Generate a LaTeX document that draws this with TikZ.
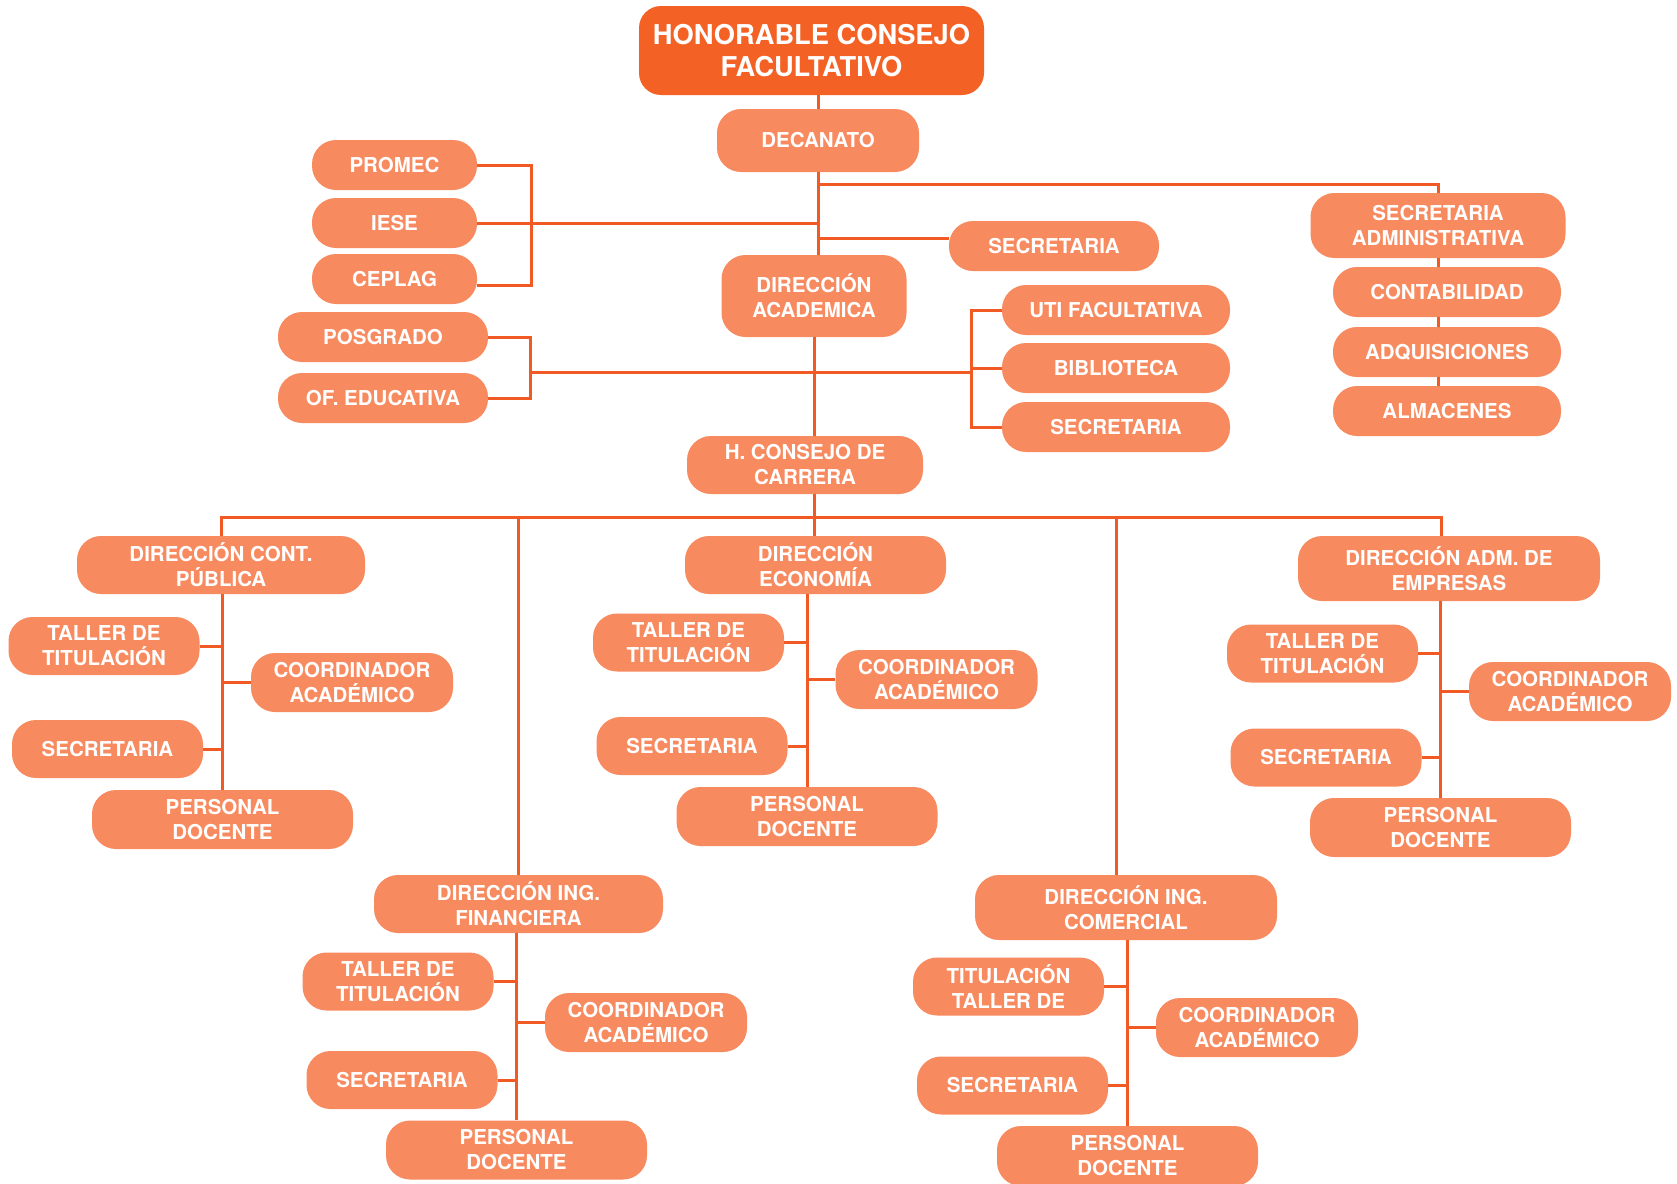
\documentclass[tikz,border=0pt]{standalone}
\usepackage{fontspec}
\setmainfont{TeX Gyre Heros}

\definecolor{unitfill}{HTML}{F88A5F}
\definecolor{headfill}{HTML}{F46124}
\definecolor{linkcol}{HTML}{F15A24}

\tikzset{
  unit/.style={fill=unitfill, text=white, rounded corners=24pt, align=center, inner sep=0pt,
    font=\bfseries\fontsize{20.5}{25}\selectfont},
  unitbox/.style 2 args={unit, minimum width=#1pt, minimum height=#2pt},
  tallbox/.style={unitbox={191}{58}},
  coobox/.style={unitbox={202}{59}},
  docbox/.style={unitbox={261}{59}},
  link/.style={draw=linkcol, line width=3pt},
}

\begin{document}
\begin{tikzpicture}[x=1pt, y=-1pt, line join=miter]

  \fill[white] (0,0) rectangle (1677,1183);

  %% ════ 上层 ════
  \node[unitbox={345}{89}, fill=headfill, rounded corners=22pt,
        font=\bfseries\fontsize{27.3}{32.5}\selectfont] (hcf) at (811.5,50.5) {\raisebox{-3pt}{HONORABLE CONSEJO}\\\raisebox{-3pt}{FACULTATIVO}};
  \node[unitbox={202}{63}] (dec) at (818,140.5) {DECANATO};

  \node[unitbox={165}{50}] (promec) at (394.5,165) {PROMEC};
  \node[unitbox={165}{50}] (iese)   at (394.5,223) {IESE};
  \node[unitbox={165}{50}] (ceplag) at (394.5,279) {CEPLAG};
  \node[unitbox={210}{50}] (posg)   at (383,337)   {POSGRADO};
  \node[unitbox={210}{50}] (ofed)   at (383,398)   {OF. EDUCATIVA};

  \node[unitbox={210}{50}] (sec1) at (1054,246) {SECRETARIA};
  \node[unitbox={185}{82}] (dac)  at (814,296)  {DIRECCIÓN\\ACADEMICA};
  \node[unitbox={228}{50}] (uti)  at (1116,310) {UTI FACULTATIVA};
  \node[unitbox={228}{50}] (bib)  at (1116,368) {BIBLIOTECA};
  \node[unitbox={228}{50}] (sec2) at (1116,427) {SECRETARIA};

  \node[unitbox={255}{65}] (sadm) at (1438,225.5) {SECRETARIA\\ADMINISTRATIVA};
  \node[unitbox={228}{50}] (cont) at (1447,292) {CONTABILIDAD};
  \node[unitbox={228}{50}] (adq)  at (1447,352) {ADQUISICIONES};
  \node[unitbox={228}{50}] (alm)  at (1447,411) {ALMACENES};

  \node[unitbox={236}{58}] (hcc) at (805,465) {H. CONSEJO DE\\CARRERA};

  %% ════ 五个学院 ════
  % cont. pública
  \node[unitbox={288}{58}] (cp) at (221,565) {DIRECCIÓN CONT.\\PÚBLICA};
  \node[tallbox] (cptal) at (104,646)     {TALLER DE\\TITULACIÓN};
  \node[coobox]  (cpcoo) at (352,682.5)   {COORDINADOR\\ACADÉMICO};
  \node[tallbox] (cpsec) at (107.5,749)   {SECRETARIA};
  \node[docbox]  (cpdoc) at (222.5,819.5) {PERSONAL\\DOCENTE};
  % economía
  \node[unitbox={261}{58}] (ec) at (815.5,565) {DIRECCIÓN\\ECONOMÍA};
  \node[tallbox] (ectal) at (688.5,642.5) {TALLER DE\\TITULACIÓN};
  \node[coobox]  (eccoo) at (936.5,679.5) {COORDINADOR\\ACADÉMICO};
  \node[tallbox] (ecsec) at (692,746)     {SECRETARIA};
  \node[docbox]  (ecdoc) at (807,816.5)   {PERSONAL\\DOCENTE};
  % adm. de empresas
  \node[unitbox={302}{65}] (ad) at (1449,568.5) {DIRECCIÓN ADM. DE\\EMPRESAS};
  \node[tallbox] (adtal) at (1322.5,653.5) {TALLER DE\\TITULACIÓN};
  \node[coobox]  (adcoo) at (1570,691.5)   {COORDINADOR\\ACADÉMICO};
  \node[tallbox] (adsec) at (1326,757.5)   {SECRETARIA};
  \node[docbox]  (addoc) at (1440.5,827.5) {PERSONAL\\DOCENTE};
  % ing. financiera
  \node[unitbox={289}{58}] (fi) at (518.5,904) {DIRECCIÓN ING.\\FINANCIERA};
  \node[tallbox] (fital) at (398,981.5)  {TALLER DE\\TITULACIÓN};
  \node[coobox]  (ficoo) at (646,1022.5) {COORDINADOR\\ACADÉMICO};
  \node[tallbox] (fisec) at (402,1080)   {SECRETARIA};
  \node[docbox]  (fidoc) at (516.5,1150) {PERSONAL\\DOCENTE};
  % ing. comercial
  \node[unitbox={302}{65}] (co) at (1126,907.5) {DIRECCIÓN ING.\\COMERCIAL};
  \node[tallbox] (cotal) at (1008.5,986.5) {TITULACIÓN\\TALLER DE};
  \node[coobox]  (cocoo) at (1257,1027.5)  {COORDINADOR\\ACADÉMICO};
  \node[tallbox] (cosec) at (1012.5,1085.5) {SECRETARIA};
  \node[unitbox={261}{60}] (codoc) at (1127.5,1156) {PERSONAL\\DOCENTE};

  %% ════ 连线 ════
  \coordinate (jtop) at (818,184);
  \coordinate (jacl) at (530,372);
  \coordinate (jacr) at (971,372);
  \coordinate (jbr)  at (814,517);

  \draw[link] (dec.north) -- (dec.north |- hcf.south);
  \draw[link] (dec.south) -- (dec.south |- dac.north);
  \draw[link] (jtop) -| (sadm.north);
  \draw[link] (iese.east) -- (iese.east -| dec.south);
  \draw[link] (promec.east) -- ++(54,0) |- ([yshift=-6pt]ceplag.east);
  \draw[link] ([yshift=8pt]sec1.west) -- ([yshift=8pt]sec1.west -| dec.south);

  \draw[link] (posg.east) -- ++(42,0) |- (ofed.east);
  \draw[link] (jacl) -- (jacr);
  \draw[link] (uti.west) -| (jacr) |- (sec2.west);
  \draw[link] (bib.west) -- (bib.west -| jacr);

  \foreach \a/\b in {sadm/cont, cont/adq, adq/alm}
    \draw[link] (sadm.south |- \a.south) -- (sadm.south |- \b.north);

  % 主干穿过 H. CONSEJO，分两段
  \draw[link] (dac.south) -- (dac.south |- hcc.north);
  \draw[link] (dac.south |- hcc.south) -- (dac.south |- ec.north);
  \draw[link] (cp.north) |- (jbr) -| ([xshift=-8pt]ad.north);
  \draw[link] (fi.north) -- (fi.north |- jbr);
  \draw[link] ([xshift=-10pt]co.north) -- ([xshift=-10pt]co.north |- jbr);

  \foreach \g in {cp,ec,ad,fi,co}{
    \draw[link] (\g.south -| \g doc.north) -- (\g doc.north);
    \draw[link] (\g tal.east) -- (\g tal.east -| \g doc.north);
    \draw[link] (\g coo.west) -- (\g coo.west -| \g doc.north);
    \draw[link] (\g sec.east) -- (\g sec.east -| \g doc.north);
  }

  % 钉死画布
  \pgfresetboundingbox
  \path[use as bounding box] (0,0) rectangle (1677,1183);
\end{tikzpicture}
\end{document}
